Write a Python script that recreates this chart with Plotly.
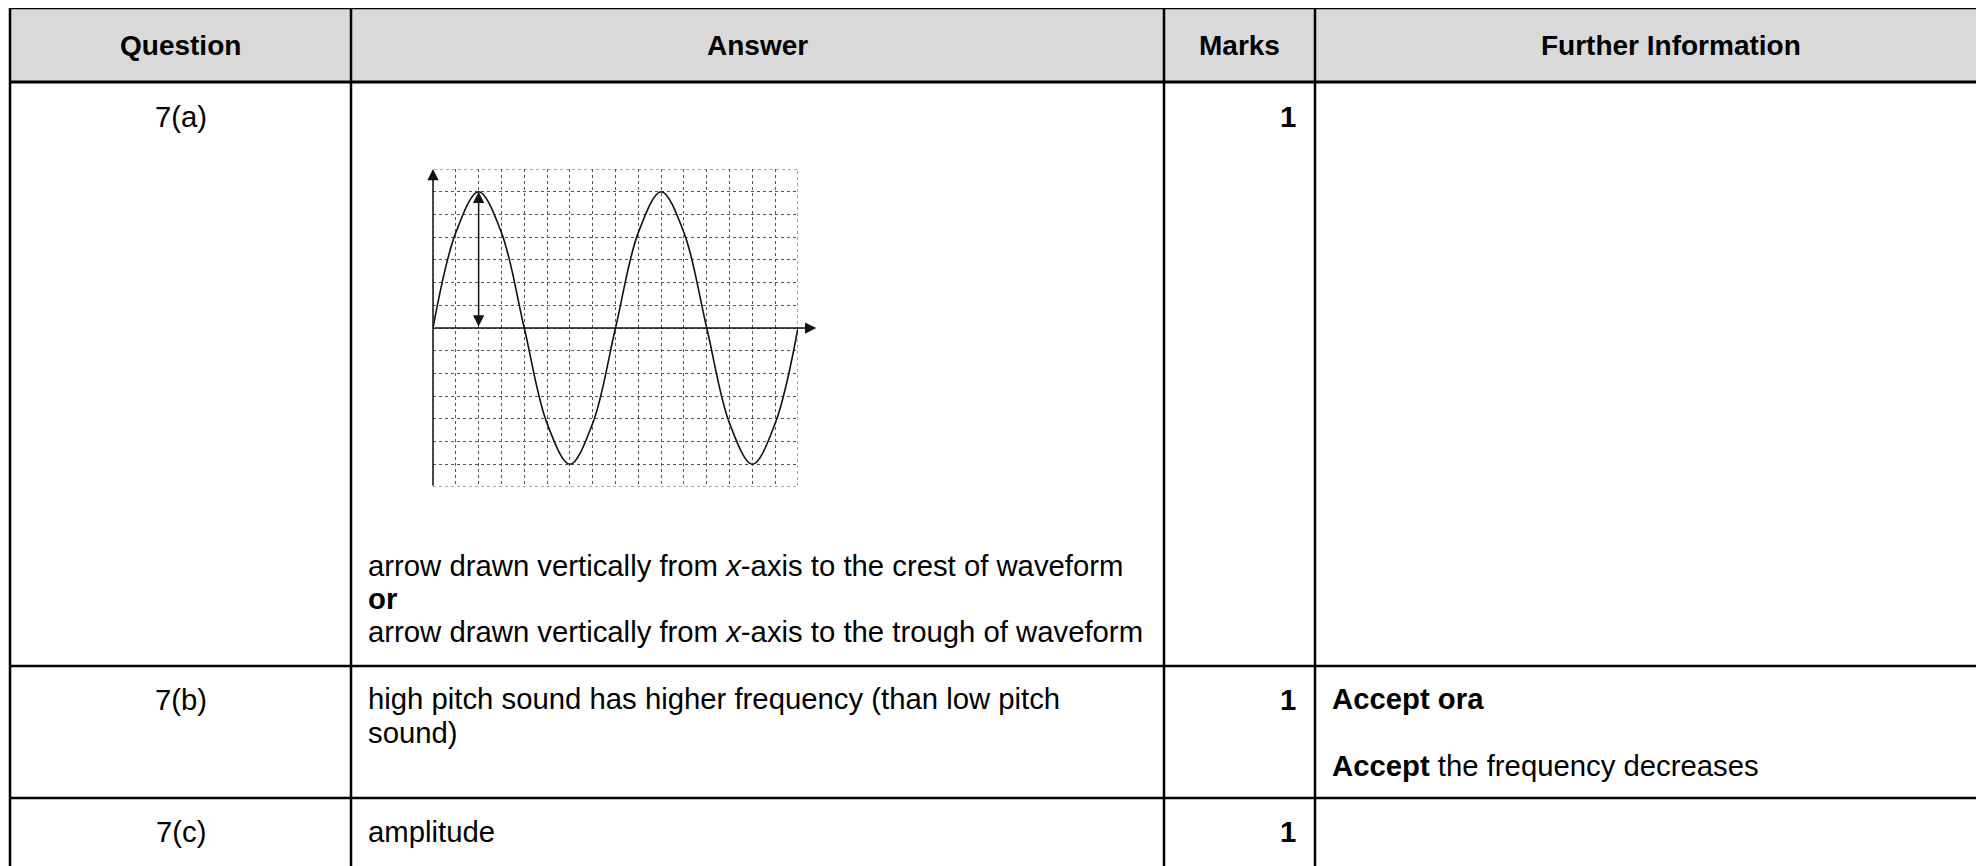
import plotly.graph_objects as go

# --- table content ---
headers = ["Question", "Answer", "Marks", "Further Information"]
questions = ["7(a)", "7(b)", "7(c)"]
marks = ["1", "1", "1"]
answer_a = [
    "arrow drawn vertically from <i>x</i>-axis to the crest of waveform",
    "<b>or</b>",
    "arrow drawn vertically from <i>x</i>-axis to the trough of waveform",
]
answer_b = ["high pitch sound has higher frequency (than low pitch", "sound)"]
answer_c = ["amplitude"]
info_b = ["<b>Accept ora</b>", "<b>Accept</b> the frequency decreases"]

# --- waveform (x in grid squares, y in grid squares) ---
wave_x = [0, 1, 2, 3, 4, 5, 6, 7, 8, 9, 10, 11, 12, 13, 14, 15, 16]
wave_y = [0, 4.2, 6, 4.2, 0, -4.2, -6, -4.2, 0, 4.2, 6, 4.2, 0, -4.2, -6, -4.2, 0]
arrow_x = 2
arrow_y = [0, 6]

W, H = 1984, 866
OFF = 8  # page body margin, so coordinates below are page pixels
FONT = "Liberation Sans, Arial, sans-serif"
FS = 29.3
FS_HEAD = 28

col_edges = [10, 351, 1164, 1315, 2040]
row_edges = [8, 82, 666, 798, 900]

fig = go.Figure()

# wave trace on the small inset axes
fig.add_trace(go.Scatter(
    x=wave_x, y=wave_y, mode="lines", xaxis="x2", yaxis="y2",
    line=dict(color="#111", width=1.6, shape="spline", smoothing=1.0),
    hoverinfo="skip", showlegend=False,
))

shapes = []
# header fill
shapes.append(dict(type="rect", xref="x", yref="y", x0=col_edges[0], x1=col_edges[-1],
                   y0=row_edges[0], y1=row_edges[1], fillcolor="#d9d9d9", line_width=0, layer="below"))
# horizontal rules
for i, yy in enumerate(row_edges[:-1]):
    shapes.append(dict(type="line", xref="x", yref="y", x0=col_edges[0], x1=col_edges[-1],
                       y0=yy, y1=yy, line=dict(color="black", width=3 if i == 1 else 2.5)))
# vertical rules
for xx in col_edges[:-1]:
    shapes.append(dict(type="line", xref="x", yref="y", x0=xx, x1=xx,
                       y0=row_edges[0], y1=row_edges[-1], line=dict(color="black", width=2.5)))
# dotted border of the grid
shapes.append(dict(type="rect", xref="x2", yref="y2", x0=0, x1=16, y0=-7, y1=7,
                   line=dict(color="#555", width=1, dash="dot")))

ann = []
def txt(x, y, s, anchor="left", bold=False, size=FS):
    ann.append(dict(x=x, y=y, xref="x", yref="y", text=f"<b>{s}</b>" if bold else s,
                    showarrow=False, xanchor=anchor, yanchor="middle",
                    font=dict(family=FONT, size=size, color="black")))

# headers
for i, h in enumerate(headers):
    txt((col_edges[i] + col_edges[i + 1]) / 2 if i < 3 else 1671, 45, h, "center",
        bold=True, size=FS_HEAD)

row_text_y = [116, 699, 831]
for q, m, yy in zip(questions, marks, row_text_y):
    txt((col_edges[0] + col_edges[1]) / 2, yy, q, "center")
    txt(1298, yy, m, "right", bold=True)

for s, yy in zip(answer_a, [565, 598, 631]):
    txt(366, yy, s)
for s, yy in zip(answer_b, [698, 732]):
    txt(366, yy, s)
for s, yy in zip(answer_c, [831]):
    txt(366, yy, s)
for s, yy in zip(info_b, [698, 765]):
    txt(1330, yy, s)

# axes arrows on the wave grid
arrow_style = dict(showarrow=True, arrowhead=2, arrowsize=1.5, arrowwidth=1.5,
                   arrowcolor="#111", text="", xref="x2", yref="y2", axref="x2", ayref="y2")
ann.append(dict(x=16.8, y=0, ax=0, ay=0, **arrow_style))
ann.append(dict(x=0, y=7, ax=0, ay=-7, **arrow_style))
ann.append(dict(x=arrow_x, y=arrow_y[1], ax=arrow_x, ay=arrow_y[0], arrowside="end+start", **arrow_style))

fig.update_layout(
    width=W, height=H, margin=dict(l=0, r=0, t=0, b=0),
    paper_bgcolor="white", plot_bgcolor="rgba(0,0,0,0)",
    xaxis=dict(range=[OFF, W + OFF], visible=False, domain=[0, 1]),
    yaxis=dict(range=[H + OFF, OFF], visible=False, domain=[0, 1]),
    xaxis2=dict(domain=[(433 - OFF) / W, (798 - OFF) / W], range=[0, 16], anchor="y2",
                showgrid=True, dtick=1, gridcolor="#555", griddash="dot", gridwidth=1,
                showticklabels=False, zeroline=False, ticks="", showline=False),
    yaxis2=dict(domain=[1 - (487 - OFF) / H, 1 - (169 - OFF) / H], range=[-7, 7], anchor="x2",
                showgrid=True, dtick=1, gridcolor="#555", griddash="dot", gridwidth=1,
                showticklabels=False, zeroline=False, ticks="", showline=False),
    shapes=shapes, annotations=ann, showlegend=False,
)

fig.write_html("out.html")
